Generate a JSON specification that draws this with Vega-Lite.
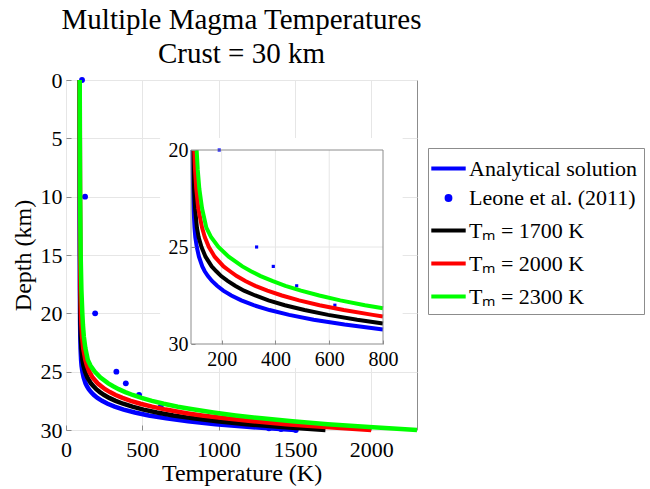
{
  "$schema": "https://vega.github.io/schema/vega-lite/v6.json",
  "width": 351,
  "height": 350,
  "autosize": {"type": "none"},
  "padding": {"left": 66, "top": 80, "right": 233, "bottom": 59},
  "background": "white",
  "title": {"text": ["Multiple Magma Temperatures", "Crust = 30 km"], "font": "Liberation Serif", "fontSize": 29, "fontWeight": "normal", "lineHeight": 34, "offset": 0, "color": "black", "anchor": "middle", "frame": "group"},
  "config": {
    "font": "Liberation Serif",
    "view": {"stroke": "#8c8c8c", "strokeWidth": 1},
    "axis": {"labelFont": "Liberation Serif", "labelFontSize": 22, "labelColor": "black", "titleFont": "Liberation Serif", "titleFontSize": 24, "titleFontWeight": "normal", "titleColor": "black", "domainColor": "#8c8c8c", "tickColor": "#8c8c8c", "gridColor": "#e6e6e6", "labelFlush": false, "labelOverlap": false}
  },
  "datasets": {
    "profiles": [
      {"series": "Analytical solution", "depth": 0, "temp": 90},
      {"series": "Analytical solution", "depth": 5, "temp": 90},
      {"series": "Analytical solution", "depth": 10, "temp": 90},
      {"series": "Analytical solution", "depth": 15, "temp": 90.5},
      {"series": "Analytical solution", "depth": 18, "temp": 91},
      {"series": "Analytical solution", "depth": 20, "temp": 92},
      {"series": "Analytical solution", "depth": 21, "temp": 92.7},
      {"series": "Analytical solution", "depth": 22, "temp": 93.7},
      {"series": "Analytical solution", "depth": 23, "temp": 95.5},
      {"series": "Analytical solution", "depth": 24, "temp": 99},
      {"series": "Analytical solution", "depth": 24.5, "temp": 102},
      {"series": "Analytical solution", "depth": 25, "temp": 107.5},
      {"series": "Analytical solution", "depth": 25.5, "temp": 115.5},
      {"series": "Analytical solution", "depth": 26, "temp": 128},
      {"series": "Analytical solution", "depth": 26.25, "temp": 137},
      {"series": "Analytical solution", "depth": 26.5, "temp": 149},
      {"series": "Analytical solution", "depth": 26.75, "temp": 164},
      {"series": "Analytical solution", "depth": 27, "temp": 183},
      {"series": "Analytical solution", "depth": 27.25, "temp": 206},
      {"series": "Analytical solution", "depth": 27.5, "temp": 236},
      {"series": "Analytical solution", "depth": 27.75, "temp": 273},
      {"series": "Analytical solution", "depth": 28, "temp": 319},
      {"series": "Analytical solution", "depth": 28.25, "temp": 378},
      {"series": "Analytical solution", "depth": 28.5, "temp": 451},
      {"series": "Analytical solution", "depth": 28.75, "temp": 542},
      {"series": "Analytical solution", "depth": 29, "temp": 657},
      {"series": "Analytical solution", "depth": 29.25, "temp": 800},
      {"series": "Analytical solution", "depth": 29.5, "temp": 981},
      {"series": "Analytical solution", "depth": 29.75, "temp": 1207},
      {"series": "Analytical solution", "depth": 30, "temp": 1500},

      {"series": "Tₘ = 1700 K", "depth": 0, "temp": 90},
      {"series": "Tₘ = 1700 K", "depth": 5, "temp": 90.5},
      {"series": "Tₘ = 1700 K", "depth": 10, "temp": 91},
      {"series": "Tₘ = 1700 K", "depth": 15, "temp": 92},
      {"series": "Tₘ = 1700 K", "depth": 18, "temp": 93},
      {"series": "Tₘ = 1700 K", "depth": 20, "temp": 94},
      {"series": "Tₘ = 1700 K", "depth": 21, "temp": 95.5},
      {"series": "Tₘ = 1700 K", "depth": 22, "temp": 97.4},
      {"series": "Tₘ = 1700 K", "depth": 23, "temp": 101},
      {"series": "Tₘ = 1700 K", "depth": 24, "temp": 108},
      {"series": "Tₘ = 1700 K", "depth": 24.5, "temp": 114.5},
      {"series": "Tₘ = 1700 K", "depth": 25, "temp": 125},
      {"series": "Tₘ = 1700 K", "depth": 25.5, "temp": 140},
      {"series": "Tₘ = 1700 K", "depth": 26, "temp": 163},
      {"series": "Tₘ = 1700 K", "depth": 26.25, "temp": 180},
      {"series": "Tₘ = 1700 K", "depth": 26.5, "temp": 198},
      {"series": "Tₘ = 1700 K", "depth": 26.75, "temp": 222},
      {"series": "Tₘ = 1700 K", "depth": 27, "temp": 250},
      {"series": "Tₘ = 1700 K", "depth": 27.25, "temp": 283},
      {"series": "Tₘ = 1700 K", "depth": 27.5, "temp": 325},
      {"series": "Tₘ = 1700 K", "depth": 27.75, "temp": 374},
      {"series": "Tₘ = 1700 K", "depth": 28, "temp": 435},
      {"series": "Tₘ = 1700 K", "depth": 28.25, "temp": 508},
      {"series": "Tₘ = 1700 K", "depth": 28.5, "temp": 596},
      {"series": "Tₘ = 1700 K", "depth": 28.75, "temp": 704},
      {"series": "Tₘ = 1700 K", "depth": 28.94, "temp": 800},
      {"series": "Tₘ = 1700 K", "depth": 29, "temp": 834},
      {"series": "Tₘ = 1700 K", "depth": 29.25, "temp": 992},
      {"series": "Tₘ = 1700 K", "depth": 29.5, "temp": 1183},
      {"series": "Tₘ = 1700 K", "depth": 29.75, "temp": 1416},
      {"series": "Tₘ = 1700 K", "depth": 30, "temp": 1700},

      {"series": "Tₘ = 2000 K", "depth": 0, "temp": 90},
      {"series": "Tₘ = 2000 K", "depth": 5, "temp": 90.5},
      {"series": "Tₘ = 2000 K", "depth": 10, "temp": 91.5},
      {"series": "Tₘ = 2000 K", "depth": 15, "temp": 92.7},
      {"series": "Tₘ = 2000 K", "depth": 18, "temp": 95},
      {"series": "Tₘ = 2000 K", "depth": 20, "temp": 98},
      {"series": "Tₘ = 2000 K", "depth": 21, "temp": 101},
      {"series": "Tₘ = 2000 K", "depth": 22, "temp": 105.6},
      {"series": "Tₘ = 2000 K", "depth": 23, "temp": 113},
      {"series": "Tₘ = 2000 K", "depth": 24, "temp": 127},
      {"series": "Tₘ = 2000 K", "depth": 24.5, "temp": 137.5},
      {"series": "Tₘ = 2000 K", "depth": 25, "temp": 152.5},
      {"series": "Tₘ = 2000 K", "depth": 25.5, "temp": 174},
      {"series": "Tₘ = 2000 K", "depth": 26, "temp": 207},
      {"series": "Tₘ = 2000 K", "depth": 26.25, "temp": 231},
      {"series": "Tₘ = 2000 K", "depth": 26.5, "temp": 256},
      {"series": "Tₘ = 2000 K", "depth": 26.75, "temp": 288},
      {"series": "Tₘ = 2000 K", "depth": 27, "temp": 325},
      {"series": "Tₘ = 2000 K", "depth": 27.25, "temp": 370},
      {"series": "Tₘ = 2000 K", "depth": 27.5, "temp": 424},
      {"series": "Tₘ = 2000 K", "depth": 27.75, "temp": 488},
      {"series": "Tₘ = 2000 K", "depth": 28, "temp": 564},
      {"series": "Tₘ = 2000 K", "depth": 28.25, "temp": 654},
      {"series": "Tₘ = 2000 K", "depth": 28.5, "temp": 762},
      {"series": "Tₘ = 2000 K", "depth": 28.58, "temp": 800},
      {"series": "Tₘ = 2000 K", "depth": 28.75, "temp": 891},
      {"series": "Tₘ = 2000 K", "depth": 29, "temp": 1044},
      {"series": "Tₘ = 2000 K", "depth": 29.25, "temp": 1227},
      {"series": "Tₘ = 2000 K", "depth": 29.5, "temp": 1444},
      {"series": "Tₘ = 2000 K", "depth": 29.75, "temp": 1703},
      {"series": "Tₘ = 2000 K", "depth": 30, "temp": 2000},

      {"series": "Tₘ = 2300 K", "depth": 0, "temp": 90},
      {"series": "Tₘ = 2300 K", "depth": 5, "temp": 90.5},
      {"series": "Tₘ = 2300 K", "depth": 10, "temp": 92},
      {"series": "Tₘ = 2300 K", "depth": 15, "temp": 96},
      {"series": "Tₘ = 2300 K", "depth": 18, "temp": 101},
      {"series": "Tₘ = 2300 K", "depth": 20, "temp": 107},
      {"series": "Tₘ = 2300 K", "depth": 21, "temp": 111},
      {"series": "Tₘ = 2300 K", "depth": 22, "temp": 117},
      {"series": "Tₘ = 2300 K", "depth": 23, "temp": 127},
      {"series": "Tₘ = 2300 K", "depth": 24, "temp": 143},
      {"series": "Tₘ = 2300 K", "depth": 24.5, "temp": 161},
      {"series": "Tₘ = 2300 K", "depth": 25, "temp": 188},
      {"series": "Tₘ = 2300 K", "depth": 25.5, "temp": 226},
      {"series": "Tₘ = 2300 K", "depth": 26, "temp": 277},
      {"series": "Tₘ = 2300 K", "depth": 26.25, "temp": 309},
      {"series": "Tₘ = 2300 K", "depth": 26.5, "temp": 345},
      {"series": "Tₘ = 2300 K", "depth": 26.75, "temp": 388},
      {"series": "Tₘ = 2300 K", "depth": 27, "temp": 437},
      {"series": "Tₘ = 2300 K", "depth": 27.25, "temp": 495},
      {"series": "Tₘ = 2300 K", "depth": 27.5, "temp": 563},
      {"series": "Tₘ = 2300 K", "depth": 27.75, "temp": 641},
      {"series": "Tₘ = 2300 K", "depth": 28, "temp": 733},
      {"series": "Tₘ = 2300 K", "depth": 28.16, "temp": 800},
      {"series": "Tₘ = 2300 K", "depth": 28.25, "temp": 841},
      {"series": "Tₘ = 2300 K", "depth": 28.5, "temp": 966},
      {"series": "Tₘ = 2300 K", "depth": 28.75, "temp": 1112},
      {"series": "Tₘ = 2300 K", "depth": 29, "temp": 1283},
      {"series": "Tₘ = 2300 K", "depth": 29.25, "temp": 1483},
      {"series": "Tₘ = 2300 K", "depth": 29.5, "temp": 1715},
      {"series": "Tₘ = 2300 K", "depth": 29.75, "temp": 1986},
      {"series": "Tₘ = 2300 K", "depth": 30, "temp": 2300}
    ],
    "leone": [
      {"series": "Leone et al. (2011)", "depth": 0, "temp": 105},
      {"series": "Leone et al. (2011)", "depth": 10, "temp": 125},
      {"series": "Leone et al. (2011)", "depth": 20, "temp": 191},
      {"series": "Leone et al. (2011)", "depth": 25, "temp": 330},
      {"series": "Leone et al. (2011)", "depth": 26, "temp": 392},
      {"series": "Leone et al. (2011)", "depth": 27, "temp": 479},
      {"series": "Leone et al. (2011)", "depth": 28, "temp": 621},
      {"series": "Leone et al. (2011)", "depth": 29.85, "temp": 1330},
      {"series": "Leone et al. (2011)", "depth": 29.92, "temp": 1409},
      {"series": "Leone et al. (2011)", "depth": 30, "temp": 1506}
    ]
  },
  "layer": [
    {
      "layer": [
        {
          "data": {"name": "profiles"},
          "transform": [{"filter": "datum.series === 'Analytical solution'"}],
          "mark": {"type": "line", "strokeWidth": 4.5},
          "encoding": {
            "x": {"field": "temp", "type": "quantitative", "scale": {"domain": [0, 2300], "nice": false, "zero": false}, "axis": {"values": [0, 500, 1000, 1500, 2000], "format": "d", "title": "Temperature (K)", "grid": true, "tickSize": -5, "labelPadding": 14, "titlePadding": 1, "domain": false}},
            "y": {"field": "depth", "type": "quantitative", "scale": {"domain": [0, 30], "reverse": true, "nice": false, "zero": false}, "axis": {"values": [0, 5, 10, 15, 20, 25, 30], "format": "d", "title": "Depth (km)", "grid": true, "tickSize": -5, "labelPadding": 9, "titlePadding": 5, "domain": false}},
            "order": {"field": "depth", "type": "quantitative"},
            "color": {
              "field": "series", "type": "nominal",
              "scale": {"domain": ["Analytical solution", "Leone et al. (2011)", "Tₘ = 1700 K", "Tₘ = 2000 K", "Tₘ = 2300 K"], "range": ["#0000ff", "#0000ff", "#000000", "#ff0000", "#00ff00"]},
              "legend": {
                "orient": "none", "legendX": 362, "legendY": 68, "title": null,
                "labelFont": "Liberation Serif", "labelFontSize": 22, "labelColor": "black", "labelLimit": 400,
                "symbolStrokeWidth": 2,
                "rowPadding": 7, "padding": 6, "labelOffset": 6,
                "strokeColor": "#8c8c8c", "fillColor": "white"
              }
            }
          }
        },
        {
          "data": {"name": "leone"},
          "mark": {"type": "point", "filled": true, "opacity": 1},
          "encoding": {
            "x": {"field": "temp", "type": "quantitative"},
            "y": {"field": "depth", "type": "quantitative"},
            "color": {"field": "series", "type": "nominal"},
            "shape": {
              "field": "series", "type": "nominal",
              "scale": {"domain": ["Analytical solution", "Leone et al. (2011)", "Tₘ = 1700 K", "Tₘ = 2000 K", "Tₘ = 2300 K"], "range": ["M-1.2,-0.08H1.2V0.08H-1.2Z", "circle", "M-1.2,-0.08H1.2V0.08H-1.2Z", "M-1.2,-0.08H1.2V0.08H-1.2Z", "M-1.2,-0.08H1.2V0.08H-1.2Z"]},
              "legend": {"orient": "none", "legendX": 362, "legendY": 68, "title": null}
            },
            "size": {
              "field": "series", "type": "nominal",
              "scale": {"type": "ordinal", "domain": ["Analytical solution", "Leone et al. (2011)", "Tₘ = 1700 K", "Tₘ = 2000 K", "Tₘ = 2300 K"], "range": [729, 34, 729, 729, 729]},
              "legend": {"orient": "none", "legendX": 362, "legendY": 68, "title": null}
            }
          }
        },
        {
          "data": {"name": "profiles"},
          "transform": [{"filter": "datum.series === 'Tₘ = 1700 K'"}],
          "mark": {"type": "line", "strokeWidth": 4.5},
          "encoding": {
            "x": {"field": "temp", "type": "quantitative"},
            "y": {"field": "depth", "type": "quantitative"},
            "order": {"field": "depth", "type": "quantitative"},
            "color": {"field": "series", "type": "nominal"}
          }
        },
        {
          "data": {"name": "profiles"},
          "transform": [{"filter": "datum.series === 'Tₘ = 2000 K'"}],
          "mark": {"type": "line", "strokeWidth": 4.5},
          "encoding": {
            "x": {"field": "temp", "type": "quantitative"},
            "y": {"field": "depth", "type": "quantitative"},
            "order": {"field": "depth", "type": "quantitative"},
            "color": {"field": "series", "type": "nominal"}
          }
        },
        {
          "data": {"name": "profiles"},
          "transform": [{"filter": "datum.series === 'Tₘ = 2300 K'"}],
          "mark": {"type": "line", "strokeWidth": 4.5},
          "encoding": {
            "x": {"field": "temp", "type": "quantitative"},
            "y": {"field": "depth", "type": "quantitative"},
            "order": {"field": "depth", "type": "quantitative"},
            "color": {"field": "series", "type": "nominal"}
          }
        }
      ]
    },
    {
      "layer": [
        {
          "data": {"values": [{}]},
          "mark": {"type": "rect", "fill": "white", "strokeWidth": 0},
          "encoding": {
            "x": {"datum": -29, "type": "quantitative", "scale": {"domain": [86, 800], "range": [125, 317], "nice": false, "zero": false}, "axis": {"orient": "bottom", "offset": -86, "values": [200, 400, 600, 800], "title": null, "grid": false, "domain": false, "tickSize": -4, "labelPadding": 9, "labelFontSize": 20, "zindex": 1}},
            "x2": {"datum": 873},
            "y": {"datum": 19.38, "type": "quantitative", "scale": {"domain": [20, 30], "range": [70, 264], "nice": false, "zero": false}, "axis": {"orient": "left", "offset": -125, "values": [20, 25, 30], "title": null, "grid": false, "domain": false, "tickSize": -4, "labelPadding": 7, "labelFontSize": 20, "zindex": 1}},
            "y2": {"datum": 31.24}
          }
        },
        {
          "data": {"values": [{"temp": 200}, {"temp": 400}, {"temp": 600}]},
          "mark": {"type": "rule", "color": "#e6e6e6", "strokeWidth": 1},
          "encoding": {
            "x": {"field": "temp", "type": "quantitative"},
            "y": {"datum": 20, "type": "quantitative"},
            "y2": {"datum": 30}
          }
        },
        {
          "data": {"values": [{"depth": 25}]},
          "mark": {"type": "rule", "color": "#e6e6e6", "strokeWidth": 1},
          "encoding": {
            "y": {"field": "depth", "type": "quantitative"},
            "x": {"datum": 86, "type": "quantitative"},
            "x2": {"datum": 800}
          }
        },
        {
          "data": {"name": "profiles"},
          "transform": [{"filter": "datum.series === 'Analytical solution' && datum.depth >= 20 && datum.temp <= 800"}],
          "mark": {"type": "line", "strokeWidth": 4},
          "encoding": {
            "x": {"field": "temp", "type": "quantitative"},
            "y": {"field": "depth", "type": "quantitative"},
            "order": {"field": "depth", "type": "quantitative"},
            "color": {"field": "series", "type": "nominal"}
          }
        },
        {
          "data": {"name": "leone"},
          "transform": [{"filter": "datum.depth >= 20 && datum.temp <= 800"}],
          "mark": {"type": "point", "filled": true, "shape": "square", "size": 10, "opacity": 1},
          "encoding": {
            "x": {"field": "temp", "type": "quantitative"},
            "y": {"field": "depth", "type": "quantitative"},
            "color": {"field": "series", "type": "nominal"}
          }
        },
        {
          "data": {"name": "profiles"},
          "transform": [{"filter": "datum.series === 'Tₘ = 1700 K' && datum.depth >= 20 && datum.temp <= 800"}],
          "mark": {"type": "line", "strokeWidth": 4},
          "encoding": {
            "x": {"field": "temp", "type": "quantitative"},
            "y": {"field": "depth", "type": "quantitative"},
            "order": {"field": "depth", "type": "quantitative"},
            "color": {"field": "series", "type": "nominal"}
          }
        },
        {
          "data": {"name": "profiles"},
          "transform": [{"filter": "datum.series === 'Tₘ = 2000 K' && datum.depth >= 20 && datum.temp <= 800"}],
          "mark": {"type": "line", "strokeWidth": 4},
          "encoding": {
            "x": {"field": "temp", "type": "quantitative"},
            "y": {"field": "depth", "type": "quantitative"},
            "order": {"field": "depth", "type": "quantitative"},
            "color": {"field": "series", "type": "nominal"}
          }
        },
        {
          "data": {"name": "profiles"},
          "transform": [{"filter": "datum.series === 'Tₘ = 2300 K' && datum.depth >= 20 && datum.temp <= 800"}],
          "mark": {"type": "line", "strokeWidth": 4},
          "encoding": {
            "x": {"field": "temp", "type": "quantitative"},
            "y": {"field": "depth", "type": "quantitative"},
            "order": {"field": "depth", "type": "quantitative"},
            "color": {"field": "series", "type": "nominal"}
          }
        },
        {
          "data": {"values": [{}]},
          "mark": {"type": "rect", "fillOpacity": 0, "stroke": "#8c8c8c", "strokeWidth": 1},
          "encoding": {
            "x": {"datum": 86, "type": "quantitative"},
            "x2": {"datum": 800},
            "y": {"datum": 20, "type": "quantitative"},
            "y2": {"datum": 30}
          }
        }
      ]
    }
  ],
  "resolve": {"scale": {"x": "independent", "y": "independent"}, "axis": {"x": "independent", "y": "independent"}}
}
